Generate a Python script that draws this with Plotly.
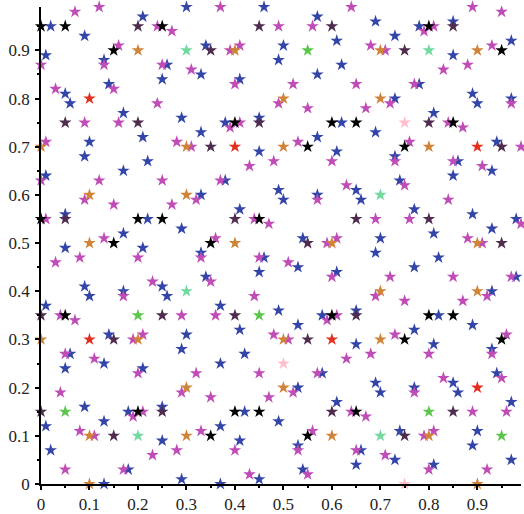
import plotly.graph_objects as go

# ---- data ----
black_pts = [(0,0.95),(0.05,0.95),(0.25,0.95),(0.15,0.9),(0.8,0.95),(0.95,0.9),(0.4,0.75),(0.6,0.75),
             (0.65,0.75),(0.85,0.75),(0.55,0.7),(0.75,0.7),(0,0.55),(0.2,0.55),(0.25,0.55),(0.45,0.55),
             (0.15,0.5),(0.35,0.5),(0.05,0.35),(0.6,0.35),(0.8,0.35),(0.85,0.35),(0.75,0.3),(0.95,0.3),
             (0.2,0.15),(0.4,0.15),(0.45,0.15),(0.65,0.15),(0.35,0.1),(0.55,0.1)]
purple_pts = [(0.2,0.95),(0.45,0.95),(0.6,0.95),(0.85,0.95),(0.35,0.9),(0.75,0.9),(0.05,0.75),(0.2,0.75),
              (0.45,0.75),(0.8,0.75),(0.35,0.7),(0.95,0.7),(0.05,0.55),(0.4,0.55),(0.65,0.55),(0.8,0.55),
              (0.55,0.5),(0.95,0.5),(0,0.35),(0.25,0.35),(0.4,0.35),(0.65,0.35),(0.15,0.3),(0.55,0.3),
              (0,0.15),(0.25,0.15),(0.6,0.15),(0.85,0.15),(0.15,0.1),(0.75,0.1)]
orange_pts = [(0.2,0.9),(0.4,0.9),(0.7,0.9),(0.9,0.9),(0.5,0.8),(0.7,0.8),(0,0.7),(0.3,0.7),(0.5,0.7),
              (0.8,0.7),(0.1,0.6),(0.3,0.6),(0.1,0.5),(0.4,0.5),(0.6,0.5),(0.9,0.5),(0.7,0.4),(0.9,0.4),
              (0,0.3),(0.2,0.3),(0.5,0.3),(0.7,0.3),(0.3,0.2),(0.5,0.2),(0.1,0.1),(0.3,0.1),(0.6,0.1),
              (0.8,0.1),(0.1,0),(0.9,0)]
red_pts = [(0.1,0.8),(0.4,0.7),(0.9,0.7),(0.1,0.3),(0.6,0.3),(0.9,0.2)]
green_pts = [(0.55,0.9),(0.2,0.35),(0.45,0.35),(0.05,0.15),(0.8,0.15),(0.95,0.1)]
mint_pts = [(0.3,0.9),(0.8,0.9),(0.7,0.6),(0.3,0.4),(0.2,0.1),(0.7,0.1)]
pink_pts = [(0.75,0.75),(0.5,0.25),(0.75,0)]

blue_pts = [(0.02,0.95),(0.21,0.97),(0.09,0.93),(0.01,0.89),(0.13,0.88),(0.26,0.87),(0.25,0.84),(0.05,0.81),
            (0.06,0.79),(0.14,0.83),(0.17,0.77),(0.29,0.76),(0.21,0.72),(0.10,0.71),(0.09,0.68),(0.22,0.67),
            (0.17,0.65),(0.01,0.64),
            (0.30,0.99),(0.46,0.99),(0.57,0.97),(0.61,0.92),(0.34,0.91),(0.50,0.91),(0.49,0.88),(0.62,0.87),
            (0.33,0.85),(0.57,0.85),(0.41,0.84),(0.38,0.75),(0.45,0.76),(0.62,0.75),(0.33,0.73),(0.57,0.72),
            (0.61,0.69),(0.45,0.69),
            (0.69,0.96),(0.78,0.95),(0.85,0.96),(0.73,0.93),(0.97,0.92),(0.85,0.89),(0.78,0.83),(0.89,0.81),
            (0.90,0.79),(0.97,0.80),(0.73,0.80),(0.81,0.77),(0.69,0.73),(0.94,0.71),(0.73,0.68),(0.86,0.67),
            (0.93,0.65),(0.85,0.64),
            (0.05,0.56),(0.22,0.55),(0.29,0.53),(0.17,0.52),(0.05,0.49),(0.21,0.49),(0.09,0.41),(0.25,0.41),
            (0.10,0.39),(0.26,0.39),(0.17,0.40),(0.01,0.37),(0.14,0.31),
            (0.38,0.63),(0.49,0.61),(0.65,0.61),(0.33,0.60),(0.50,0.59),(0.57,0.60),(0.41,0.57),(0.54,0.51),
            (0.33,0.48),(0.46,0.47),(0.53,0.45),(0.45,0.44),(0.61,0.44),(0.34,0.43),(0.37,0.37),(0.49,0.36),
            (0.58,0.35),(0.65,0.36),(0.53,0.33),(0.41,0.32),(0.30,0.31),(0.29,0.28),
            (0.74,0.63),(0.66,0.59),(0.77,0.57),(0.89,0.56),(0.98,0.55),(0.93,0.53),(0.70,0.51),(0.81,0.52),
            (0.69,0.48),(0.82,0.47),(0.77,0.45),(0.98,0.43),(0.93,0.40),(0.82,0.35),(0.89,0.33),(0.77,0.32),
            (0.65,0.29),(0.81,0.29),
            (0.06,0.27),(0.05,0.24),(0.13,0.25),(0.21,0.24),(0.09,0.16),(0.18,0.15),(0.25,0.16),(0.01,0.12),
            (0.13,0.13),(0.25,0.09),(0.02,0.07),(0.18,0.03),(0.13,0.00),(0.29,0.01),
            (0.42,0.27),(0.37,0.25),(0.58,0.23),(0.53,0.20),(0.42,0.15),(0.61,0.17),(0.49,0.13),(0.37,0.12),
            (0.41,0.09),(0.53,0.08),(0.65,0.04),(0.54,0.03),(0.45,0.01),(0.37,0.00),
            (0.93,0.28),(0.94,0.23),(0.85,0.21),(0.69,0.21),(0.70,0.19),(0.77,0.20),(0.86,0.19),(0.97,0.17),
            (0.74,0.11),(0.90,0.11),(0.89,0.08),(0.66,0.07),(0.73,0.05),(0.81,0.04),(0.97,0.05)]

magenta_pts = [(0.07,0.98),(0.12,0.99),(0.24,0.95),(0.27,0.94),(0.16,0.91),(0.00,0.87),(0.13,0.87),(0.25,0.87),
               (0.03,0.82),(0.15,0.82),(0.24,0.79),(0.09,0.75),(0.16,0.75),(0.01,0.71),(0.28,0.71),
               (0.37,0.99),(0.64,0.99),(0.49,0.95),(0.56,0.95),(0.39,0.90),(0.41,0.91),(0.31,0.86),(0.40,0.83),
               (0.52,0.83),(0.65,0.83),(0.49,0.79),(0.55,0.78),(0.41,0.75),(0.39,0.74),(0.31,0.70),(0.53,0.71),
               (0.48,0.67),(0.60,0.67),(0.43,0.66),
               (0.89,0.99),(0.95,0.98),(0.79,0.94),(0.81,0.95),(0.68,0.91),(0.71,0.90),(0.93,0.91),(0.83,0.86),
               (0.88,0.87),(0.77,0.83),(0.97,0.79),(0.72,0.79),(0.67,0.78),(0.84,0.75),(0.87,0.74),(0.76,0.71),
               (0.99,0.70),(0.73,0.67),(0.85,0.67),(0.91,0.66),
               (0.00,0.63),(0.12,0.63),(0.25,0.63),(0.09,0.59),(0.15,0.58),(0.27,0.58),(0.01,0.55),(0.13,0.51),
               (0.08,0.47),(0.20,0.47),(0.03,0.46),(0.23,0.42),(0.17,0.39),(0.04,0.35),(0.07,0.34),(0.29,0.35),
               (0.19,0.30),(0.21,0.31),
               (0.37,0.63),(0.63,0.62),(0.32,0.59),(0.57,0.59),(0.44,0.55),(0.47,0.54),(0.36,0.51),(0.59,0.50),
               (0.61,0.51),(0.33,0.47),(0.45,0.47),(0.51,0.46),(0.60,0.43),(0.35,0.42),(0.44,0.39),(0.36,0.35),
               (0.61,0.35),(0.59,0.34),(0.48,0.31),(0.51,0.30),
               (0.75,0.62),(0.84,0.59),(0.69,0.55),(0.76,0.55),(0.99,0.54),(0.88,0.51),(0.91,0.50),(0.72,0.43),
               (0.85,0.43),(0.97,0.43),(0.69,0.39),(0.75,0.38),(0.87,0.38),(0.92,0.39),(0.73,0.31),(0.96,0.31),
               (0.05,0.27),(0.11,0.26),(0.20,0.23),(0.29,0.19),(0.04,0.19),(0.19,0.14),(0.21,0.15),(0.08,0.11),
               (0.11,0.10),(0.23,0.06),(0.28,0.07),(0.05,0.03),(0.17,0.03),
               (0.32,0.23),(0.45,0.23),(0.63,0.26),(0.57,0.23),(0.52,0.19),(0.35,0.18),(0.47,0.18),(0.64,0.15),
               (0.33,0.11),(0.56,0.11),(0.40,0.07),(0.53,0.07),(0.55,0.02),(0.43,0.02),
               (0.68,0.27),(0.80,0.27),(0.93,0.27),(0.95,0.22),(0.83,0.22),(0.77,0.19),(0.67,0.14),(0.89,0.15),
               (0.96,0.15),(0.79,0.10),(0.81,0.11),(0.65,0.07),(0.71,0.06),(0.80,0.03),(0.92,0.03)]

tick_vals = [0, 0.1, 0.2, 0.3, 0.4, 0.5, 0.6, 0.7, 0.8, 0.9]
tick_text = ["0", "0.1", "0.2", "0.3", "0.4", "0.5", "0.6", "0.7", "0.8", "0.9"]

series = [
    (blue_pts, "#3445A8"),
    (magenta_pts, "#C04CB8"),
    (black_pts, "#000000"),
    (purple_pts, "#4E2C4E"),
    (orange_pts, "#D0843A"),
    (red_pts, "#E2301F"),
    (green_pts, "#5CC64C"),
    (mint_pts, "#72D9A0"),
    (pink_pts, "#FFBFCB"),
]

fig = go.Figure()
for pts, col in series:
    fig.add_trace(go.Scatter(
        x=[p[0] for p in pts], y=[p[1] for p in pts],
        mode="markers", cliponaxis=False, showlegend=False,
        marker=dict(symbol="star", size=9.5, color=col, line=dict(width=0)),
    ))

serif = "Times New Roman"
axis_common = dict(
    showline=True, linecolor="black", linewidth=1.5,
    ticks="outside", ticklen=4, tickwidth=1.5, tickcolor="black",
    tickvals=tick_vals, ticktext=tick_text,
    minor=dict(ticks="outside", ticklen=2, tickwidth=1.5, tickcolor="black", dtick=0.05, tick0=0),
    showgrid=False, zeroline=False, automargin=False,
    tickfont=dict(family=serif, size=17, color="#222222"),
    range=[0, 0.99], fixedrange=True,
)

fig.update_layout(
    template="none",
    width=524, height=514,
    margin=dict(l=41, r=3, t=7, b=30),
    paper_bgcolor="white", plot_bgcolor="white",
    font=dict(family=serif),
    xaxis=dict(**axis_common, ticklabelstandoff=0),
    yaxis=dict(**axis_common, ticklabelstandoff=2),
)

fig.write_html("out.html")
